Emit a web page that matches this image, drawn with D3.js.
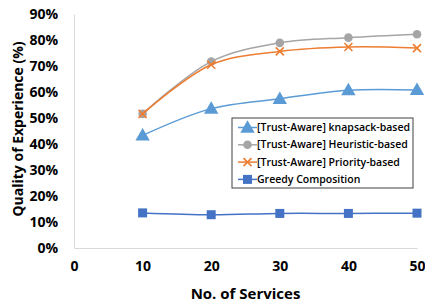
<!DOCTYPE html>
<html>
<head>
<meta charset="utf-8">
<script src="https://cdn.jsdelivr.net/npm/d3@7"></script>
<style>
  body { margin: 0; background: #fff; }
  text { font-family: "Open Sans", "DejaVu Sans", sans-serif; }
</style>
</head>
<body>
<svg id="chart" width="425" height="306"></svg>
<script>
// data
const services = [10, 20, 30, 40, 50];
const knapsack = [43.3, 53.6, 57.4, 60.7, 60.8];
const heuristic = [51.6, 71.7, 78.9, 80.9, 82.2];
const priority = [51.6, 70.5, 75.6, 77.3, 76.9];
const greedy = [13.5, 12.8, 13.3, 13.3, 13.4];
const xTicks = [0, 10, 20, 30, 40, 50];
const yTicks = [0, 10, 20, 30, 40, 50, 60, 70, 80, 90];

const series = [
    { name: '[Trust-Aware] knapsack-based', values: knapsack, color: '#5B9BD5', marker: 'triangle' },
    { name: '[Trust-Aware] Heuristic-based', values: heuristic, color: '#A5A5A5', marker: 'circle' },
    { name: '[Trust-Aware] Priority-based', values: priority, color: '#ED7D31', marker: 'cross' },
    { name: 'Greedy Composition', values: greedy, color: '#4472C4', marker: 'square' }
];

const margin = { top: 14, right: 8, bottom: 58, left: 74 };
const width = 425 - margin.left - margin.right;
const height = 306 - margin.top - margin.bottom;

const svg = d3.select('#chart');
const plot = svg.append('g')
    .attr('transform', 'translate(' + margin.left + ',' + margin.top + ')');

const x = d3.scaleLinear().domain([0, 50]).range([0, width]);
const y = d3.scaleLinear().domain([0, 90]).range([height, 0]);

// axes
const yAxis = plot.append('g')
    .call(d3.axisLeft(y).tickValues(yTicks).tickSize(0).tickPadding(16).tickFormat(d => d + '%'));
const xAxis = plot.append('g')
    .attr('transform', 'translate(0,' + height + ')')
    .call(d3.axisBottom(x).tickValues(xTicks).tickSize(0).tickPadding(13));
[xAxis, yAxis].forEach(a => {
    a.select('.domain').attr('stroke', '#d9d9d9').attr('stroke-width', 1);
    a.selectAll('text')
        .attr('fill', '#000')
        .style('font-size', '14px')
        .style('font-weight', 'bold')
        .style('font-family', '"Open Sans", sans-serif');
});

// axis titles
svg.append('text')
    .attr('x', margin.left + width / 2)
    .attr('y', 299)
    .attr('text-anchor', 'middle')
    .style('font-size', '15px')
    .style('font-weight', 'bold')
    .text('No. of Services');

svg.append('text')
    .attr('transform', 'translate(18,' + (margin.top + height / 2 - 2) + ') rotate(-90)')
    .attr('text-anchor', 'middle')
    .attr('dy', '0.35em')
    .style('font-size', '14px')
    .style('font-weight', 'bold')
    .text('Quality of Experience (%)');

const line = d3.line()
    .x((d, i) => x(services[i]))
    .y(d => y(d))
    .curve(d3.curveCatmullRom.alpha(0.5));

function drawMarker(g, type, color, cx, cy) {
    if (type === 'triangle') {
        g.append('path')
            .attr('d', d3.symbol().type(d3.symbolTriangle).size(90)())
            .attr('transform', 'translate(' + cx + ',' + (cy + 1) + ')')
            .attr('fill', color);
    } else if (type === 'circle') {
        g.append('circle').attr('cx', cx).attr('cy', cy).attr('r', 4.3).attr('fill', color);
    } else if (type === 'cross') {
        g.append('path')
            .attr('d', 'M-4,-4L4,4M-4,4L4,-4')
            .attr('transform', 'translate(' + cx + ',' + cy + ')')
            .attr('stroke', color).attr('stroke-width', 1.6).attr('fill', 'none');
    } else {
        g.append('rect')
            .attr('x', cx - 4.5).attr('y', cy - 4.5).attr('width', 9).attr('height', 9)
            .attr('fill', color);
    }
}

series.forEach(s => {
    plot.append('path')
        .datum(s.values)
        .attr('d', line)
        .attr('fill', 'none')
        .attr('stroke', s.color)
        .attr('stroke-width', 1.5);
    const g = plot.append('g');
    s.values.forEach((v, i) => drawMarker(g, s.marker, s.color, x(services[i]), y(v)));
});

// legend
const legend = svg.append('g').attr('transform', 'translate(232,118)');
legend.append('rect')
    .attr('width', 181).attr('height', 70)
    .attr('fill', '#fff').attr('stroke', '#404040').attr('stroke-width', 1);
series.forEach((s, i) => {
    const ly = 9.5 + i * 17.3;
    const row = legend.append('g');
    row.append('line')
        .attr('x1', 6).attr('x2', 25).attr('y1', ly).attr('y2', ly)
        .attr('stroke', s.color).attr('stroke-width', 1.5);
    drawMarker(row, s.marker, s.color, 15.5, ly);
    row.append('text')
        .attr('x', 25).attr('y', ly)
        .attr('dy', '0.35em')
        .style('font-size', '10.5px')
        .style('font-weight', '600')
        .text(s.name);
});
</script>
</body>
</html>
